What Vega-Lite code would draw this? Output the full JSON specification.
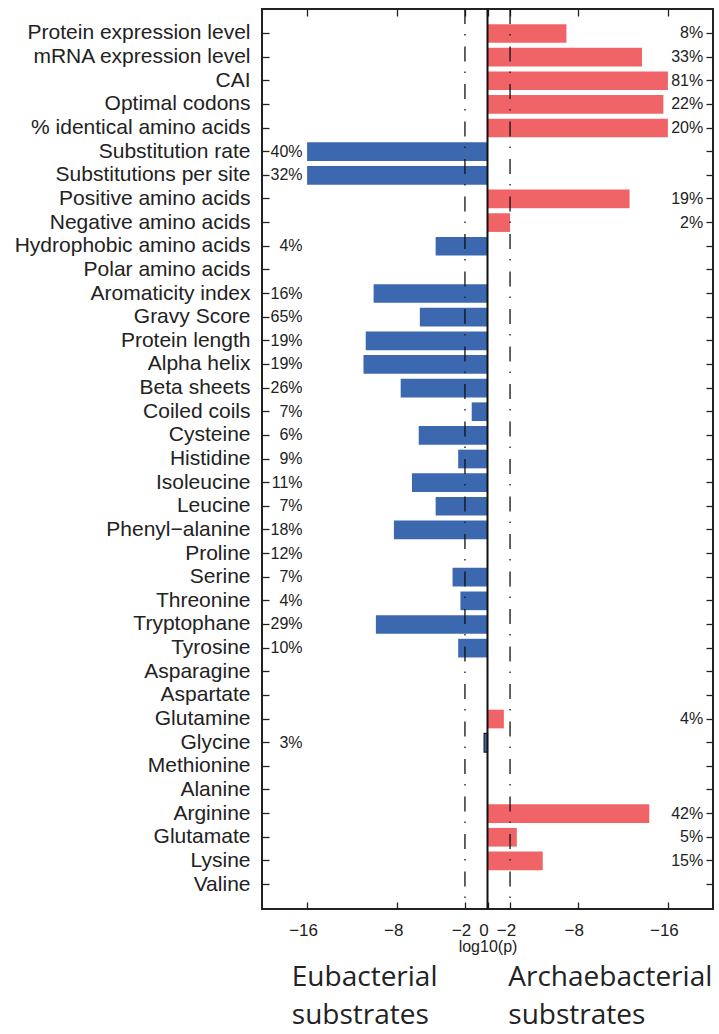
{
  "$schema": "https://vega.github.io/schema/vega-lite/v6.json",
  "autosize": {"type": "none"},
  "padding": {"left": 262, "top": 9, "right": 6, "bottom": 125},
  "width": 451,
  "height": 900,
  "background": "white",
  "config": {
    "view": {"stroke": "#222222", "strokeWidth": 2},
    "axis": {"grid": false, "domain": false, "tickColor": "#222222", "tickWidth": 1.3, "labelColor": "#222222", "titleColor": "#222222"}
  },
  "datasets": {
    "rows": [
      {"feature": "Protein expression level", "value": 7.0, "pct": "8%", "side": "Archaebacterial"},
      {"feature": "mRNA expression level", "value": 13.7, "pct": "33%", "side": "Archaebacterial"},
      {"feature": "CAI", "value": 16.0, "pct": "81%", "side": "Archaebacterial"},
      {"feature": "Optimal codons", "value": 15.6, "pct": "22%", "side": "Archaebacterial"},
      {"feature": "% identical amino acids", "value": 16.0, "pct": "20%", "side": "Archaebacterial"},
      {"feature": "Substitution rate", "value": -16.0, "pct": "40%", "side": "Eubacterial"},
      {"feature": "Substitutions per site", "value": -16.0, "pct": "32%", "side": "Eubacterial"},
      {"feature": "Positive amino acids", "value": 12.6, "pct": "19%", "side": "Archaebacterial"},
      {"feature": "Negative amino acids", "value": 2.0, "pct": "2%", "side": "Archaebacterial"},
      {"feature": "Hydrophobic amino acids", "value": -4.6, "pct": "4%", "side": "Eubacterial"},
      {"feature": "Polar amino acids", "value": 0, "pct": "", "side": "none"},
      {"feature": "Aromaticity index", "value": -10.1, "pct": "16%", "side": "Eubacterial"},
      {"feature": "Gravy Score", "value": -6.0, "pct": "65%", "side": "Eubacterial"},
      {"feature": "Protein length", "value": -10.8, "pct": "19%", "side": "Eubacterial"},
      {"feature": "Alpha helix", "value": -11.0, "pct": "19%", "side": "Eubacterial"},
      {"feature": "Beta sheets", "value": -7.7, "pct": "26%", "side": "Eubacterial"},
      {"feature": "Coiled coils", "value": -1.4, "pct": "7%", "side": "Eubacterial"},
      {"feature": "Cysteine", "value": -6.1, "pct": "6%", "side": "Eubacterial"},
      {"feature": "Histidine", "value": -2.6, "pct": "9%", "side": "Eubacterial"},
      {"feature": "Isoleucine", "value": -6.7, "pct": "11%", "side": "Eubacterial"},
      {"feature": "Leucine", "value": -4.6, "pct": "7%", "side": "Eubacterial"},
      {"feature": "Phenyl−alanine", "value": -8.3, "pct": "18%", "side": "Eubacterial"},
      {"feature": "Proline", "value": 0, "pct": "12%", "side": "Eubacterial"},
      {"feature": "Serine", "value": -3.1, "pct": "7%", "side": "Eubacterial"},
      {"feature": "Threonine", "value": -2.4, "pct": "4%", "side": "Eubacterial"},
      {"feature": "Tryptophane", "value": -9.9, "pct": "29%", "side": "Eubacterial"},
      {"feature": "Tyrosine", "value": -2.6, "pct": "10%", "side": "Eubacterial"},
      {"feature": "Asparagine", "value": 0, "pct": "", "side": "none"},
      {"feature": "Aspartate", "value": 0, "pct": "", "side": "none"},
      {"feature": "Glutamine", "value": 1.45, "pct": "4%", "side": "Archaebacterial"},
      {"feature": "Glycine", "value": -0.3, "pct": "3%", "side": "Eubacterial"},
      {"feature": "Methionine", "value": 0, "pct": "", "side": "none"},
      {"feature": "Alanine", "value": 0, "pct": "", "side": "none"},
      {"feature": "Arginine", "value": 14.35, "pct": "42%", "side": "Archaebacterial"},
      {"feature": "Glutamate", "value": 2.6, "pct": "5%", "side": "Archaebacterial"},
      {"feature": "Lysine", "value": 4.9, "pct": "15%", "side": "Archaebacterial"},
      {"feature": "Valine", "value": 0, "pct": "", "side": "none"}
    ],
    "thresholds": [{"p": -2}, {"p": 2}],
    "zero": [{"p": 0}]
  },
  "layer": [
    {
      "data": {"name": "rows"},
      "mark": {"type": "bar", "strokeWidth": 1.2},
      "encoding": {
        "y": {
          "field": "feature", "type": "nominal", "sort": null,
          "scale": {
            "domain": ["Protein expression level", "mRNA expression level", "CAI", "Optimal codons", "% identical amino acids", "Substitution rate", "Substitutions per site", "Positive amino acids", "Negative amino acids", "Hydrophobic amino acids", "Polar amino acids", "Aromaticity index", "Gravy Score", "Protein length", "Alpha helix", "Beta sheets", "Coiled coils", "Cysteine", "Histidine", "Isoleucine", "Leucine", "Phenyl−alanine", "Proline", "Serine", "Threonine", "Tryptophane", "Tyrosine", "Asparagine", "Aspartate", "Glutamine", "Glycine", "Methionine", "Alanine", "Arginine", "Glutamate", "Lysine", "Valine"],
            "paddingInner": 0.21, "paddingOuter": 0.64
          },
          "axis": {"orient": "left", "title": null, "tickSize": -7, "labelPadding": 19, "labelLimit": 400, "labelFont": "Liberation Sans", "labelFontSize": 21}
        },
        "x": {
          "field": "value", "type": "quantitative",
          "scale": {"domain": [-20, 20], "nice": false, "zero": false},
          "axis": {"orient": "bottom", "values": [-16, -8, -2, 0, 2, 8, 16], "labelExpr": "datum.value == 0 ? '0' : '−' + abs(datum.value)", "tickSize": -7, "labelPadding": 20, "labelOffset": -4, "labelOverlap": false, "labelFlush": false, "labelFont": "Liberation Sans", "labelFontSize": 17, "title": "log10(p)", "titleFont": "Liberation Sans", "titleFontSize": 16, "titleFontWeight": "normal", "titlePadding": 0}
        },
        "color": {"condition": {"test": "datum.value > 0", "value": "#F06467"}, "value": "#3C68B0"},
        "stroke": {"condition": {"test": "datum.value != 0 && abs(datum.value) < 1", "value": "#1a1a2e"}, "value": null}
      }
    },
    {
      "data": {"name": "rows"},
      "transform": [{"filter": "datum.side == 'Eubacterial'"}],
      "mark": {"type": "text", "align": "right", "baseline": "middle", "font": "Liberation Sans", "fontSize": 16, "color": "#222222"},
      "encoding": {
        "y": {"field": "feature", "type": "nominal", "sort": null, "axis": {"orient": "right", "title": null, "labels": false, "tickSize": -7}},
        "x": {"datum": -16.4, "type": "quantitative", "axis": null},
        "text": {"field": "pct"}
      }
    },
    {
      "data": {"name": "rows"},
      "transform": [{"filter": "datum.side == 'Archaebacterial'"}],
      "mark": {"type": "text", "align": "right", "baseline": "middle", "font": "Liberation Sans", "fontSize": 16, "color": "#222222"},
      "encoding": {
        "y": {"field": "feature", "type": "nominal", "sort": null, "axis": null},
        "x": {"datum": 19.13, "type": "quantitative", "axis": null},
        "text": {"field": "pct"}
      }
    },
    {
      "data": {"name": "thresholds"},
      "mark": {"type": "rule", "color": "#111111", "strokeWidth": 1.3, "strokeDash": [15, 10, 1.5, 11]},
      "encoding": {
        "x": {"field": "p", "type": "quantitative", "axis": {"orient": "top", "values": [-16, -8, -2, 0, 2, 8, 16], "labels": false, "tickSize": -7, "title": null}}
      }
    },
    {
      "data": {"name": "zero"},
      "mark": {"type": "rule", "color": "#111111", "strokeWidth": 2},
      "encoding": {
        "x": {"field": "p", "type": "quantitative", "axis": {"orient": "bottom", "values": [-17.4, 1.8], "labelExpr": "datum.value < 0 ? ['Eubacterial', 'substrates'] : ['Archaebacterial', 'substrates']", "ticks": false, "labelAlign": "left", "labelBaseline": "top", "labelPadding": 54, "labelFont": "Open Sans", "labelFontSize": 28, "labelLineHeight": 38, "labelOverlap": false, "labelBound": false, "labelFlush": false, "labelLimit": 400, "labelColor": "#222222", "title": null}}
      }
    }
  ],
  "resolve": {"axis": {"x": "independent", "y": "independent"}}
}
